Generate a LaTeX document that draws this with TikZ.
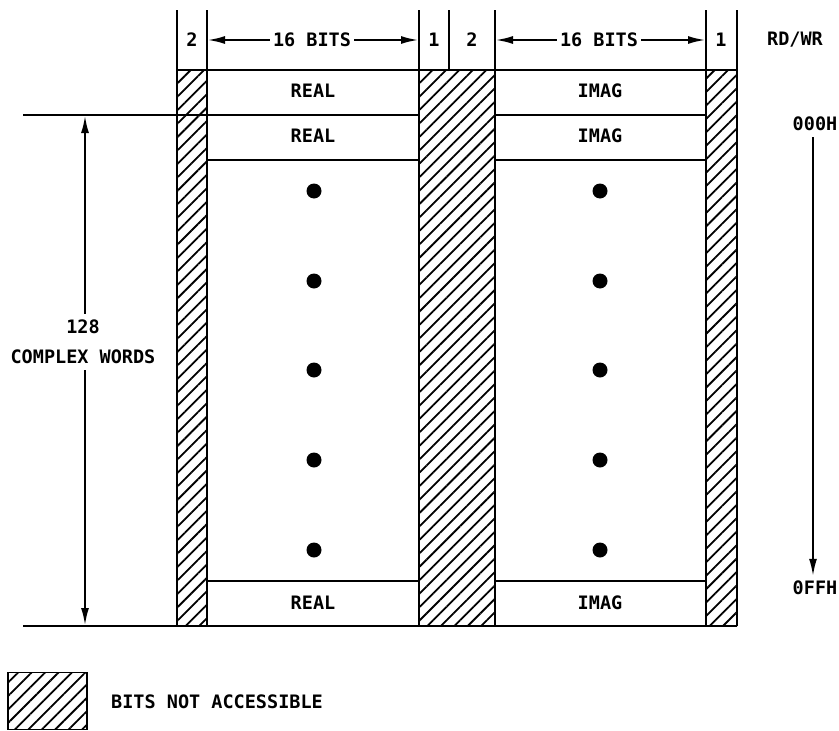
\documentclass[tikz,border=0pt]{standalone}
\usepackage{fontspec}
\setmonofont{DejaVu Sans Mono}
\usetikzlibrary{arrows.meta,patterns.meta}
\begin{document}
\begin{tikzpicture}[x=1pt,y=-1pt,
  ln/.style={line width=1.8pt},
  hatch/.style={pattern={Lines[angle=45,distance=9.5pt,line width=1.8pt]}},
  lbl/.style={font=\ttfamily\bfseries\fontsize{18.5}{30}\selectfont,inner sep=3pt},
  arr/.style={ln,-{Latex[length=17pt,width=8pt]}},
  dotmark/.style={fill=black}]
\useasboundingbox (0,0) rectangle (839,731);
% hatched columns
\foreach \a/\b in {177/207,419/495,706/737}{
  \pattern[hatch] (\a,70) rectangle (\b,626);
}
% verticals
\foreach \x in {177,207,419,495,706,737}{
  \draw[ln] (\x,10) -- (\x,626);
}
\draw[ln] (449,10) -- (449,70);
% horizontals
\draw[ln] (177,70) -- (737,70);
\draw[ln] (23,115) -- (419,115);
\draw[ln] (495,115) -- (706,115);
\draw[ln] (207,160) -- (419,160);
\draw[ln] (495,160) -- (706,160);
\draw[ln] (207,581) -- (419,581);
\draw[ln] (495,581) -- (706,581);
\draw[ln] (23,626) -- (737,626);
% header labels
\node[lbl] (h2a) at (192,40) {2};
\node[lbl] (b1) at (312,40) {16 BITS};
\node[lbl] (h1a) at (434,40) {1};
\node[lbl] (h2b) at (472,40) {2};
\node[lbl] (b2) at (599,40) {16 BITS};
\node[lbl] (h1b) at (721,40) {1};
\node[lbl] (rdwr) at (795,40) {RD/WR};
\coordinate (b1l) at (208,40);
\coordinate (b1r) at (418,40);
\coordinate (b2l) at (496,40);
\coordinate (b2r) at (705,40);
\draw[arr] (b1) -- (b1l);
\draw[arr] (b1) -- (b1r);
\draw[arr] (b2) -- (b2l);
\draw[arr] (b2) -- (b2r);
% row labels
\node[lbl] (r1) at (313,91) {REAL};
\node[lbl] (r2) at (313,136) {REAL};
\node[lbl] (r3) at (313,603) {REAL};
\node[lbl] (i1) at (600,91) {IMAG};
\node[lbl] (i2) at (600,136) {IMAG};
\node[lbl] (i3) at (600,603) {IMAG};
% dots
\foreach \y in {191,281,370,460,550}{
  \fill[dotmark] (314,\y) circle (7.5);
  \fill[dotmark] (600,\y) circle (7.5);
}
% left dimension
\node[lbl,align=center,inner ysep=6pt] (cw) at (83,342) {128\\COMPLEX WORDS};
\coordinate (lt) at (85,116);
\coordinate (lb) at (85,625);
\draw[arr] (cw.north -| lt) -- (lt);
\draw[arr] (cw.south -| lb) -- (lb);
% right address arrow
\node[lbl,inner sep=6pt] (a0) at (815,124) {000H};
\node[lbl,inner sep=5pt] (af) at (815,588) {0FFH};
\draw[arr] (a0.south -| 813,0) -- (af.north -| 813,0);
% legend
\node[draw,ln,hatch,minimum width=79pt,minimum height=57pt,inner sep=0pt] (leg) at (47.5,701) {};
\node[lbl,anchor=west] (legtxt) at (108,702) {BITS NOT ACCESSIBLE};
\end{tikzpicture}
\end{document}
